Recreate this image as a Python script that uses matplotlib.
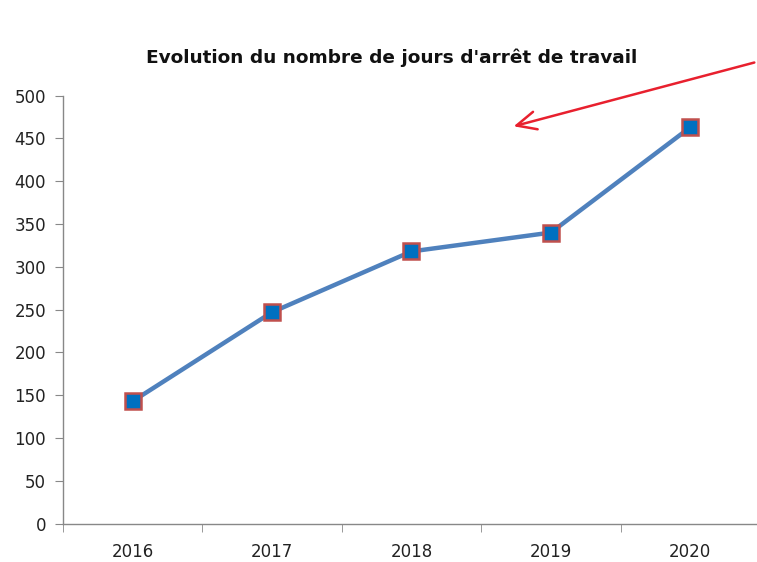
import matplotlib.pyplot as plt
from matplotlib.ticker import FixedLocator, NullFormatter

# data
years = ["2016", "2017", "2018", "2019", "2020"]
jours = [143, 247, 318, 340, 463]
title = "Evolution du nombre de jours d'arrêt de travail"

fig = plt.figure(figsize=(7.57, 5.62), dpi=100)
ax = fig.add_axes([0.083, 0.068, 0.921, 0.762])

x = list(range(len(years)))
ax.plot(x, jours, color="#4f81bd", lw=3.2, marker="s", ms=11.5,
        markerfacecolor="#0070c0", markeredgecolor="#c0504d", markeredgewidth=1.8,
        zorder=3)

ax.set_xlim(-0.5, len(years) - 0.5)
ax.set_ylim(0, 500)
ax.set_yticks(range(0, 501, 50))
ax.set_xticks(x)
ax.set_xticklabels(years)
# tick marks between categories, like Excel
ax.xaxis.set_minor_locator(FixedLocator([i - 0.5 for i in range(len(years) + 1)]))
ax.xaxis.set_minor_formatter(NullFormatter())
ax.tick_params(axis="x", which="major", length=0, pad=14, labelsize=12, colors="#222222")
ax.tick_params(axis="x", which="minor", length=6, color="#888888", direction="out")
ax.tick_params(axis="y", length=6, color="#888888", labelsize=12, labelcolor="#222222", pad=6)

for s in ["top", "right"]:
    ax.spines[s].set_visible(False)
for s in ["left", "bottom"]:
    ax.spines[s].set_color("#888888")
    ax.spines[s].set_linewidth(1)

fig.text(0.517, 0.898, title, ha="center", va="center", fontsize=13.3, fontweight="bold",
         color="#111111")

# red arrow coming in from the top right
ax.annotate("", xy=(0.675, 0.774), xycoords="figure fraction",
            xytext=(1.0, 0.89), textcoords="figure fraction",
            arrowprops=dict(arrowstyle="->,head_length=1.4,head_width=0.65",
                            color="#e8202e", lw=1.8))

fig.savefig("out.png", dpi=100)
